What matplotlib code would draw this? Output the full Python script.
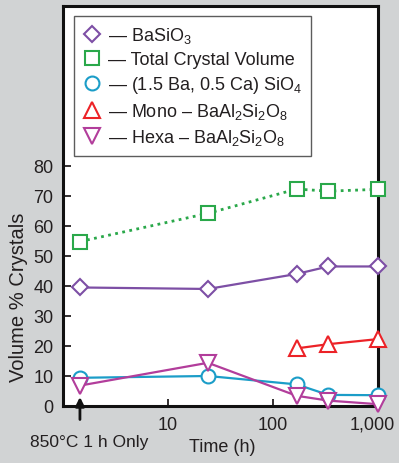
import matplotlib
matplotlib.use('Agg')
import matplotlib.pyplot as plt
from matplotlib.lines import Line2D
from matplotlib.transforms import ScaledTranslation

plt.rcParams['font.family'] = ['Liberation Sans', 'DejaVu Sans']
plt.rcParams['mathtext.fontset'] = 'custom'
plt.rcParams['mathtext.rm'] = 'Liberation Sans'
plt.rcParams['mathtext.it'] = 'Liberation Sans'
plt.rcParams['mathtext.bf'] = 'Liberation Sans'

# data
time_h = [1.45, 24, 168, 336, 1000]
basio3 = [39.5, 39.0, 44.0, 46.5, 46.5]
total = [54.8, 64.2, 72.3, 71.6, 72.2]
ba_ca = [9.4, 10.0, 7.2, 3.7, 3.6]
mono_t = [168, 336, 1000]
mono = [19.2, 20.6, 22.3]
hexa = [6.8, 14.4, 3.4, 1.8, 0.6]

labels = [' — BaSiO$_3$', ' — Total Crystal Volume', ' — (1.5 Ba, 0.5 Ca) SiO$_4$',
          ' — Mono – BaAl$_2$Si$_2$O$_8$', ' — Hexa – BaAl$_2$Si$_2$O$_8$']
yticks = [0, 10, 20, 30, 40, 50, 60, 70, 80]
xticks = [10, 100, 1000]
xticklabels = ['10', '100', '1,000']

c_purple = '#7d4fa5'
c_green = '#2aa84a'
c_cyan = '#1b9dc8'
c_red = '#ec2227'
c_mag = '#b23d9b'
txt = '#231f20'

W, H = 399, 464
fig = plt.figure(figsize=(W / 100, H / 100), dpi=100, facecolor='#d1d3d4')
ax = fig.add_axes([63 / W, 57 / H, 315 / W, 400 / H])
ax.set_facecolor('white')

ms = 10
lw = 1.6
ax.plot(time_h, total, color=c_green, lw=2, ls=(0, (1, 1.6)), marker='s', ms=ms,
        mfc='white', mec=c_green, mew=1.5, clip_on=False, zorder=3)
ax.plot(time_h, basio3, color=c_purple, lw=lw, marker='D', ms=8.5,
        mfc='white', mec=c_purple, mew=1.5, clip_on=False, zorder=3)
ax.plot(mono_t, mono, color=c_red, lw=lw, marker='^', ms=11,
        mfc='white', mec=c_red, mew=1.5, clip_on=False, zorder=3)
ax.plot(time_h, ba_ca, color=c_cyan, lw=lw, marker='o', ms=ms,
        mfc='white', mec=c_cyan, mew=1.5, clip_on=False, zorder=3)
ax.plot(time_h, hexa, color=c_mag, lw=lw, marker='v', ms=11,
        mfc='white', mec=c_mag, mew=1.5, clip_on=False, zorder=4)

ax.set_xscale('log')
ax.set_xlim(1, 1000)
ax.set_ylim(0, 133.3)
ax.set_xticks(xticks)
ax.set_xticklabels(xticklabels)
ax.xaxis.set_minor_locator(matplotlib.ticker.NullLocator())
ax.set_yticks(yticks)
ax.tick_params(axis='y', direction='in', length=6, width=1.3, pad=7,
               labelsize=13, labelcolor=txt, color=txt)
ax.tick_params(axis='x', direction='in', length=5, width=1.3, pad=7,
               labelsize=13, labelcolor=txt, color=txt)
# keep "1,000" inside the figure
last = ax.get_xticklabels()[-1]
last.set_transform(last.get_transform() + ScaledTranslation(-6 / 100, 0, fig.dpi_scale_trans))
for s in ax.spines.values():
    s.set_linewidth(2.2)
    s.set_color('#111111')
    s.set_zorder(2)

ax.set_ylabel('Volume % Crystals', fontsize=14.5, color=txt)
ax.yaxis.set_label_coords(-0.112, 0.275)
ax.set_xlabel('Time (h)', fontsize=13, color=txt, va='center')
ax.xaxis.set_label_coords(0.505, -0.1025)

fig.text(89 / W, 1 - 443 / H, '850°C 1 h Only', fontsize=12.5, color=txt,
         ha='center', va='center')
ax.annotate('', xy=(1.45, 3), xytext=(1.45, -4.5), annotation_clip=False,
            arrowprops=dict(arrowstyle='-|>', lw=2, color='#111111',
                            mutation_scale=13, shrinkA=0, shrinkB=0))

handles = [
    Line2D([], [], ls='none', marker='D', ms=8.5, mfc='white', mec=c_purple, mew=1.5),
    Line2D([], [], ls='none', marker='s', ms=ms, mfc='white', mec=c_green, mew=1.5),
    Line2D([], [], ls='none', marker='o', ms=ms, mfc='white', mec=c_cyan, mew=1.5),
    Line2D([], [], ls='none', marker='^', ms=11, mfc='white', mec=c_red, mew=1.5),
    Line2D([], [], ls='none', marker='v', ms=11, mfc='white', mec=c_mag, mew=1.5),
]
leg = ax.legend(handles, labels, loc='upper left', bbox_to_anchor=(74 / W, 1 - 17 / H),
                bbox_transform=fig.transFigure, borderaxespad=0, fontsize=13,
                frameon=True, fancybox=False, handlelength=1.0, handletextpad=0.1,
                labelspacing=0.33, borderpad=0.5, labelcolor=txt)
leg.get_frame().set_edgecolor('#333333')
leg.get_frame().set_linewidth(1.0)

fig.savefig('out.png', dpi=100, facecolor=fig.get_facecolor())
